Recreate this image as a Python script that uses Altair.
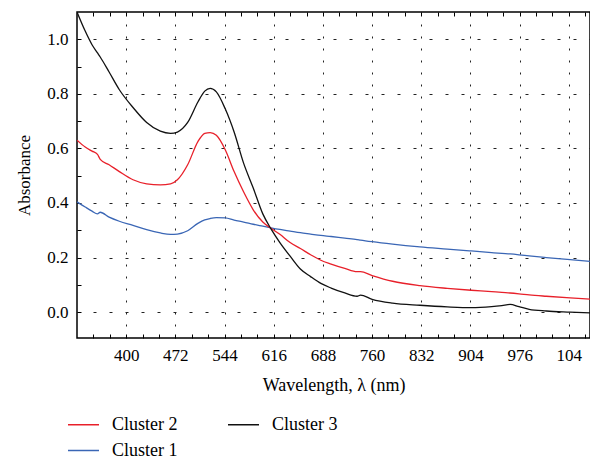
import altair as alt
import pandas as pd

# ---- data ----
wavelength = [328, 340, 350, 358, 362, 375, 390, 410, 430, 450, 465, 475, 490, 505, 515,
              523, 532, 545, 558, 572, 586, 600, 612, 625, 640, 655, 670, 685, 700, 720,
              738, 743, 760, 790, 830, 870, 905, 935, 950, 962, 975, 990, 1015, 1050, 1091]

cluster3 = [1.10, 1.03, 0.98, 0.95, 0.935, 0.88, 0.815, 0.75, 0.695, 0.663, 0.655, 0.66,
            0.695, 0.77, 0.81, 0.82, 0.807, 0.745, 0.66, 0.545, 0.455, 0.36, 0.305, 0.255,
            0.205, 0.158, 0.13, 0.105, 0.088, 0.07, 0.058, 0.062, 0.047, 0.033, 0.025,
            0.019, 0.016, 0.02, 0.024, 0.028, 0.02, 0.01, 0.004, 0.0, -0.004]

cluster2 = [0.63, 0.605, 0.59, 0.578, 0.56, 0.54, 0.515, 0.485, 0.47, 0.466, 0.47, 0.485,
            0.54, 0.625, 0.655, 0.658, 0.648, 0.595, 0.515, 0.44, 0.375, 0.33, 0.307,
            0.285, 0.255, 0.233, 0.21, 0.19, 0.176, 0.16, 0.148, 0.148, 0.134, 0.113,
            0.097, 0.087, 0.08, 0.075, 0.072, 0.07, 0.067, 0.063, 0.058, 0.052, 0.046]

cluster1 = [0.404, 0.385, 0.37, 0.36, 0.366, 0.348, 0.333, 0.318, 0.302, 0.29, 0.285,
            0.286, 0.298, 0.325, 0.338, 0.343, 0.346, 0.345, 0.337, 0.33, 0.322, 0.315,
            0.309, 0.303, 0.297, 0.291, 0.286, 0.281, 0.277, 0.271, 0.266, 0.264, 0.258,
            0.249, 0.239, 0.231, 0.224, 0.218, 0.215, 0.213, 0.21, 0.206, 0.2, 0.192, 0.183]

# legend is filled column by column: (Cluster 2, Cluster 1) | (Cluster 3)
series_names = ["Cluster 2", "Cluster 1", "Cluster 3"]
series_colors = ["#e8202a", "#3a66b5", "#111111"]

x_ticks = [400, 472, 544, 616, 688, 760, 832, 904, 976, 1048]
x_minor = [352, 376, 400, 424, 448, 472, 496, 520, 544, 568, 592, 616, 640, 664, 688, 712,
           736, 760, 784, 808, 832, 856, 880, 904, 928, 952, 976, 1000, 1024, 1048, 1072]
y_ticks = [0.0, 0.2, 0.4, 0.6, 0.8, 1.0]
y_minor = [0.0, 0.1, 0.2, 0.3, 0.4, 0.5, 0.6, 0.7, 0.8, 0.9, 1.0]

rows = []
for name, vals in (("Cluster 1", cluster1), ("Cluster 2", cluster2), ("Cluster 3", cluster3)):
    for w, v in zip(wavelength, vals):
        rows.append({"wl": w, "abs": v, "series": name})
df = pd.DataFrame(rows)

FONT = "Liberation Serif"
xscale = alt.Scale(domain=[328, 1079], nice=False, zero=False)
yscale = alt.Scale(domain=[-0.095, 1.1], nice=False, zero=False)

base = alt.Chart(df)

main = base.mark_line(strokeWidth=1.3, clip=True, interpolate="monotone").encode(
    x=alt.X("wl:Q", scale=xscale, axis=alt.Axis(
        orient="bottom", values=x_ticks, ticks=False, domain=False,
        labelExpr="datum.value == 1048 ? '104' : datum.label",
        grid=True, gridDash=[2, 10], gridColor="#222222", gridWidth=1,
        labelFont=FONT, labelFontSize=17, labelColor="black", labelPadding=9,
        title="Wavelength, λ (nm)", titleFont=FONT, titleFontSize=18,
        titleFontWeight="normal", titleColor="black",
        titleBaseline="alphabetic", titleY=52)),
    y=alt.Y("abs:Q", scale=yscale, axis=alt.Axis(
        orient="left", values=y_ticks, format=".1f", ticks=False, domain=False,
        grid=True, gridDash=[3, 13], gridColor="#222222", gridWidth=1,
        labelFont=FONT, labelFontSize=17, labelColor="black", labelPadding=9,
        title="Absorbance", titleFont=FONT, titleFontSize=17,
        titleFontWeight="normal", titleColor="black",
        titleBaseline="alphabetic", titleX=-48)),
    color=alt.Color("series:N", scale=alt.Scale(domain=series_names, range=series_colors),
                    legend=alt.Legend(orient="none", legendX=-10, legendY=396, columns=2,
                                      title=None, padding=0, symbolType="stroke",
                                      symbolSize=961, symbolStrokeWidth=1.5,
                                      labelFont=FONT, labelFontSize=18, labelColor="black",
                                      labelOffset=12, columnPadding=47, rowPadding=-6)),
    detail="series:N",
)

ticks_a = base.mark_line(strokeOpacity=0).encode(
    x=alt.X("wl:Q", scale=xscale, axis=alt.Axis(
        orient="bottom", values=x_minor, offset=-4, tickSize=4, tickColor="black",
        tickWidth=1, labels=False, domain=False, grid=False, title=None)),
    y=alt.Y("abs:Q", scale=yscale, axis=alt.Axis(
        orient="left", values=y_minor, offset=-4, tickSize=4, tickColor="black",
        tickWidth=1, labels=False, domain=False, grid=False, title=None)),
    detail="series:N",
)

ticks_b = base.mark_line(strokeOpacity=0).encode(
    x=alt.X("wl:Q", scale=xscale, axis=alt.Axis(
        orient="top", values=x_minor, offset=-4, tickSize=4, tickColor="black",
        tickWidth=1, labels=False, domain=False, grid=False, title=None)),
    y=alt.Y("abs:Q", scale=yscale, axis=None),
    detail="series:N",
)

chart = alt.layer(main, ticks_a, ticks_b).resolve_axis(
    x="independent", y="independent"
).properties(
    width=513, height=326,
    autosize=alt.AutoSizeParams(type="none"),
    padding={"left": 69, "top": 4, "right": 0, "bottom": 124},
).configure_view(
    stroke="black", strokeWidth=1.5
)

chart.save("out.html", embed_options={"renderer": "svg", "actions": False})
